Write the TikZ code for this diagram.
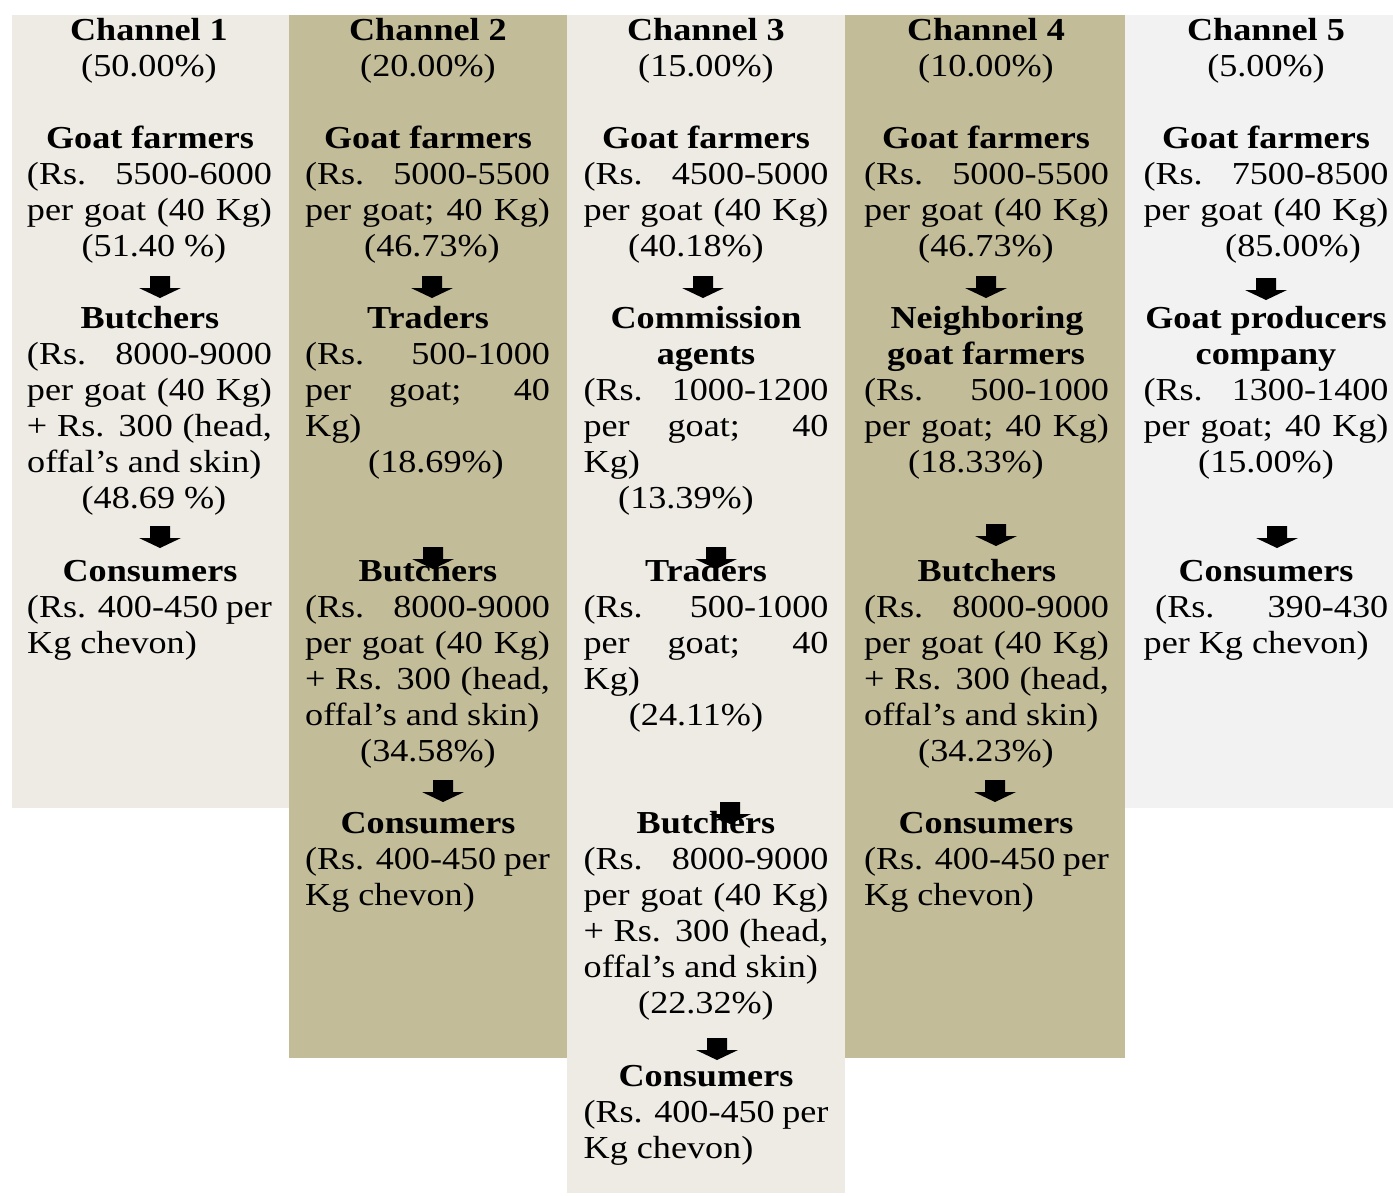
\documentclass[tikz,border=0pt]{standalone}
\usepackage{fontspec}
\setmainfont{Liberation Serif}[FakeStretch=1.13]
\definecolor{panelA}{HTML}{EEEBE4}
\definecolor{panelB}{HTML}{C2BC99}
\definecolor{panelC}{HTML}{F2F2F2}
\newcommand\lineC[4]{\node[tl] (#1) at (#2,{40+36.07*#3}) {#4};}
\newcommand\lineB[4]{\node[tl,font=\fontsize{32}{36}\selectfont\bfseries] (#1) at (#2,{40+36.07*#3}) {#4};}
\newcommand\lineJ[4]{\node[tl] (#1) at (#2,{40+36.07*#3}) {\makebox[245pt][s]{#4}};}
\newcommand\lineL[4]{\node[tl,anchor=base west] (#1) at (#2,{40+36.07*#3}) {#4};}
\newcommand\darr[2]{\fill[arrowfill] (#1,#2) ++(-10,0) -- ++(20,0) -- ++(0,12) -- ++(11,0) -- ++(-21,10) -- ++(-21,-10) -- ++(11,0) -- cycle;}
\begin{document}
\begin{tikzpicture}[x=1pt,y=-1pt,
  tl/.style={anchor=base,inner sep=0pt,font=\fontsize{32}{36}\selectfont},
  arrowfill/.style={fill=black}]
\useasboundingbox[fill=white] (0,0) rectangle (1393,1195);
% panels
\fill[panelA] (12,15) rectangle (289,808);
\fill[panelB] (289,15) rectangle (567,1058);
\fill[panelA] (567,15) rectangle (845,1193);
\fill[panelB] (845,15) rectangle (1125,1058);
\fill[panelC] (1125,15) rectangle (1393,808);
% arrows
\darr{160}{276}\darr{160}{526}
\darr{432}{276}\darr{433}{547}\darr{443}{780}
\darr{703}{276}\darr{716}{547}\darr{730}{802}\darr{717}{1038}
\darr{986}{276}\darr{996}{524}\darr{995}{780}
\darr{1266}{278}\darr{1277}{526}
% column 1
\lineB{a0}{149}{0}{Channel 1}
\lineC{a1}{149}{1}{(50.00\%)}
\lineB{a3}{150}{3}{Goat farmers}
\lineJ{a4}{149.5}{4}{(Rs. 5500-6000}
\lineJ{a5}{149.5}{5}{per goat (40 Kg)}
\lineC{a6}{154}{6}{(51.40 \%)}
\lineB{a8}{150}{8}{Butchers}
\lineJ{a9}{149.5}{9}{(Rs. 8000-9000}
\lineJ{a10}{149.5}{10}{per goat (40 Kg)}
\lineJ{a11}{149.5}{11}{+ Rs. 300 (head,}
\lineL{a12}{27}{12}{offal’s and skin)}
\lineC{a13}{154}{13}{(48.69 \%)}
\lineB{a15}{150}{15}{Consumers}
\lineJ{a16}{149.5}{16}{(Rs. 400-450 per}
\lineL{a17}{27}{17}{Kg chevon)}
% column 2
\lineB{b0}{428}{0}{Channel 2}
\lineC{b1}{428}{1}{(20.00\%)}
\lineB{b3}{428}{3}{Goat farmers}
\lineJ{b4}{427.5}{4}{(Rs. 5000-5500}
\lineJ{b5}{427.5}{5}{per goat; 40 Kg)}
\lineC{b6}{432}{6}{(46.73\%)}
\lineB{b8}{428}{8}{Traders}
\lineJ{b9}{427.5}{9}{(Rs. 500-1000}
\lineJ{b10}{427.5}{10}{per goat; 40}
\lineL{b11}{305}{11}{Kg)}
\lineC{b12}{436}{12}{(18.69\%)}
\lineB{b15}{428}{15}{Butchers}
\lineJ{b16}{427.5}{16}{(Rs. 8000-9000}
\lineJ{b17}{427.5}{17}{per goat (40 Kg)}
\lineJ{b18}{427.5}{18}{+ Rs. 300 (head,}
\lineL{b19}{305}{19}{offal’s and skin)}
\lineC{b20}{428}{20}{(34.58\%)}
\lineB{b22}{428}{22}{Consumers}
\lineJ{b23}{427.5}{23}{(Rs. 400-450 per}
\lineL{b24}{305}{24}{Kg chevon)}
% column 3
\lineB{c0}{706}{0}{Channel 3}
\lineC{c1}{706}{1}{(15.00\%)}
\lineB{c3}{706}{3}{Goat farmers}
\lineJ{c4}{706}{4}{(Rs. 4500-5000}
\lineJ{c5}{706}{5}{per goat (40 Kg)}
\lineC{c6}{696}{6}{(40.18\%)}
\lineB{c8}{706}{8}{Commission}
\lineB{c9}{706}{9}{agents}
\lineJ{c10}{706}{10}{(Rs. 1000-1200}
\lineJ{c11}{706}{11}{per goat; 40}
\lineL{c12}{583.5}{12}{Kg)}
\lineC{c13}{686}{13}{(13.39\%)}
\lineB{c15}{706}{15}{Traders}
\lineJ{c16}{706}{16}{(Rs. 500-1000}
\lineJ{c17}{706}{17}{per goat; 40}
\lineL{c18}{583.5}{18}{Kg)}
\lineC{c19}{696}{19}{(24.11\%)}
\lineB{c22}{706}{22}{Butchers}
\lineJ{c23}{706}{23}{(Rs. 8000-9000}
\lineJ{c24}{706}{24}{per goat (40 Kg)}
\lineJ{c25}{706}{25}{+ Rs. 300 (head,}
\lineL{c26}{583.5}{26}{offal’s and skin)}
\lineC{c27}{706}{27}{(22.32\%)}
\lineB{c29}{706}{29}{Consumers}
\lineJ{c30}{706}{30}{(Rs. 400-450 per}
\lineL{c31}{583.5}{31}{Kg chevon)}
% column 4
\lineB{d0}{986}{0}{Channel 4}
\lineC{d1}{986}{1}{(10.00\%)}
\lineB{d3}{986}{3}{Goat farmers}
\lineJ{d4}{986.5}{4}{(Rs. 5000-5500}
\lineJ{d5}{986.5}{5}{per goat (40 Kg)}
\lineC{d6}{986}{6}{(46.73\%)}
\lineB{d8}{987}{8}{Neighboring}
\lineB{d9}{986}{9}{goat farmers}
\lineJ{d10}{986.5}{10}{(Rs. 500-1000}
\lineJ{d11}{986.5}{11}{per goat; 40 Kg)}
\lineC{d12}{976}{12}{(18.33\%)}
\lineB{d15}{987}{15}{Butchers}
\lineJ{d16}{986.5}{16}{(Rs. 8000-9000}
\lineJ{d17}{986.5}{17}{per goat (40 Kg)}
\lineJ{d18}{986.5}{18}{+ Rs. 300 (head,}
\lineL{d19}{864}{19}{offal’s and skin)}
\lineC{d20}{986}{20}{(34.23\%)}
\lineB{d22}{986}{22}{Consumers}
\lineJ{d23}{986.5}{23}{(Rs. 400-450 per}
\lineL{d24}{864}{24}{Kg chevon)}
% column 5
\lineB{e0}{1266}{0}{Channel 5}
\lineC{e1}{1266}{1}{(5.00\%)}
\lineB{e3}{1266}{3}{Goat farmers}
\lineJ{e4}{1266}{4}{(Rs. 7500-8500}
\lineJ{e5}{1266}{5}{per goat (40 Kg)}
\lineC{e6}{1293}{6}{(85.00\%)}
\lineB{e8}{1266}{8}{Goat producers}
\lineB{e9}{1266}{9}{company}
\lineJ{e10}{1266}{10}{(Rs. 1300-1400}
\lineJ{e11}{1266}{11}{per goat; 40 Kg)}
\lineC{e12}{1266}{12}{(15.00\%)}
\lineB{e15}{1266}{15}{Consumers}
\lineL{e16}{1155}{16}{\makebox[233pt][s]{(Rs. 390-430}}
\lineL{e17}{1143.5}{17}{per Kg chevon)}
\end{tikzpicture}
\end{document}
